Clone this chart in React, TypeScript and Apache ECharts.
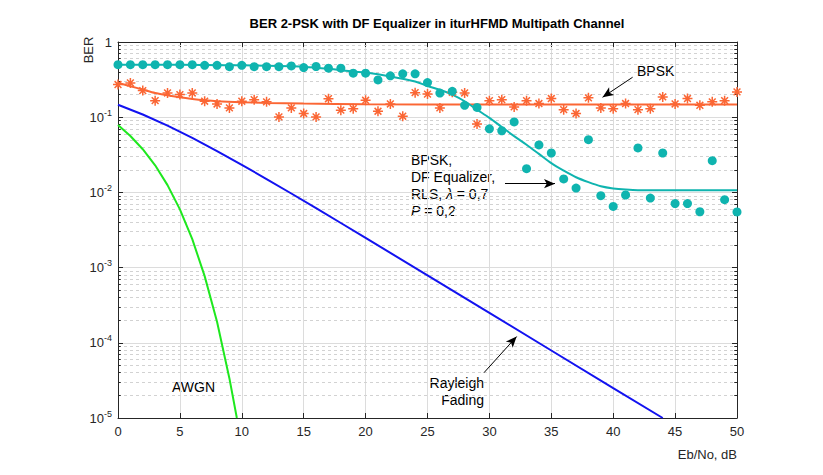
import React, { useEffect, useRef } from "react";
import * as echarts from "echarts";

const TITLE = "BER 2-PSK with DF Equalizer in iturHFMD Multipath Channel";
const X_NAME = "Eb/No, dB";
const Y_NAME = "BER";

// simulated points, one per dB from 0 to 50
const DF_EQ_SIM = [
  0.5, 0.5, 0.5, 0.5, 0.5, 0.5, 0.5, 0.49, 0.49, 0.47,
  0.49, 0.47, 0.47, 0.47, 0.48, 0.457, 0.472, 0.448, 0.448, 0.385,
  0.385, 0.313, 0.355, 0.377, 0.377, 0.289, 0.209, 0.221, 0.144, 0.135,
  0.07, 0.066, 0.0865, 0.0207, 0.0428, 0.0334, 0.0151, 0.0114, 0.0503, 0.00904,
  0.00651, 0.00923, 0.039, 0.0084, 0.0334, 0.0071, 0.0071, 0.00553, 0.0264, 0.008,
  0.0055,
];
const BPSK_SIM = [
  0.272, 0.286, 0.226, 0.166, 0.21, 0.2, 0.21, 0.163, 0.15, 0.133,
  0.163, 0.171, 0.16, 0.101, 0.133, 0.112, 0.101, 0.176, 0.124, 0.13,
  0.168, 0.12, 0.15, 0.103, 0.212, 0.203, 0.133, 0.215, 0.21, 0.081,
  0.166, 0.171, 0.137, 0.166, 0.152, 0.177, 0.126, 0.112, 0.181, 0.133,
  0.13, 0.152, 0.126, 0.13, 0.186, 0.15, 0.177, 0.144, 0.16, 0.166,
  0.217,
];

// fitted curves
const DF_FIT_X = [0, 5, 10, 14, 15, 17, 19, 20, 22, 24, 25, 26, 27, 28, 29, 30, 31, 32, 33, 34, 35, 36, 37, 38, 39, 40, 41, 42, 45, 50];
const DF_FIT_Y = [0.5, 0.5, 0.49, 0.476, 0.47, 0.44, 0.405, 0.392, 0.348, 0.298, 0.26, 0.232, 0.2, 0.163, 0.126, 0.098, 0.074, 0.056, 0.043, 0.0325, 0.0245, 0.0195, 0.0159, 0.0137, 0.0121, 0.0113, 0.0109, 0.0107, 0.0107, 0.0107];

const BPSK_FIT_X = [0, 1, 2, 3, 4, 5, 6, 7, 8, 10, 12, 15, 20, 30, 40, 50];
const BPSK_FIT_Y = [0.286, 0.258, 0.233, 0.21, 0.196, 0.184, 0.175, 0.168, 0.163, 0.158, 0.155, 0.152, 0.149, 0.147, 0.147, 0.147];

const RAYLEIGH_X = [0, 2, 4, 6, 8, 10, 12, 14, 16, 18, 20, 25, 30, 35, 40, 44];
const RAYLEIGH_Y = [0.1464, 0.1085, 0.0772, 0.053, 0.0355, 0.0233, 0.01506, 0.00967, 0.00617, 0.00392, 0.00248, 0.00079, 0.00025, 0.000079, 0.000025, 0.00001];

const AWGN_X = [0, 1, 2, 3, 4, 5, 6, 7, 8, 9, 9.6];
const AWGN_Y = [0.0786, 0.0563, 0.0375, 0.0229, 0.0125, 0.00595, 0.00239, 0.00077, 0.000191, 0.0000336, 0.00001];

const Y_DECADES = [1e-5, 1e-4, 1e-3, 1e-2, 1e-1];
const Y_MINOR_MULT = [2, 3, 4, 5, 6, 7, 8, 9];
const X_RANGE = [0, 50];
const Y_RANGE = [1e-5, 1];

const CYAN = "#0fb4af";
const ORANGE = "#fb6634";
const BLUE = "#1212f0";
const GREEN = "#1ee81e";
const AXIS = "#262626";
const FONT = "Liberation Sans, Arial, sans-serif";

const STAR = "path://M5,0L5,10M0,5L10,5M1.6,1.6L8.4,8.4M1.6,8.4L8.4,1.6";

function buildOption() {
  const minorVals: number[] = [];
  Y_DECADES.forEach((d) => Y_MINOR_MULT.forEach((m) => minorVals.push(+(d * m).toPrecision(3))));

  const tickLen = 0.22;
  const minorTickSegs: any[] = [];
  const minorGridSegs: any[] = [];
  minorVals.forEach((v) => {
    minorTickSegs.push([{ coord: [X_RANGE[0], v] }, { coord: [X_RANGE[0] + tickLen, v] }]);
    minorTickSegs.push([{ coord: [X_RANGE[1] - tickLen, v] }, { coord: [X_RANGE[1], v] }]);
    minorGridSegs.push([{ coord: [X_RANGE[0], v] }, { coord: [X_RANGE[1], v] }]);
  });

  const supLabel = (v: number) => {
    if (Math.abs(v - 1) < 1e-9) return "{b|1}";
    const e = Math.round(Math.log10(v));
    return "{b|10}{s|" + e + "}";
  };

  const axisLabelRich = {
    b: { fontSize: 13, color: AXIS, fontFamily: FONT },
    s: { fontSize: 9, color: AXIS, fontFamily: FONT, verticalAlign: "bottom", padding: [0, 0, 9, 0] },
  };

  const arrowLine = (a: number[], b: number[]) => [
    { coord: a, symbol: "none" },
    { coord: b, symbol: "arrow", symbolSize: [7, 11] },
  ];

  const helperData = [
    [X_RANGE[0], Y_RANGE[0]],
    [X_RANGE[1], Y_RANGE[1]],
  ];

  return {
    animation: false,
    backgroundColor: "#ffffff",
    title: {
      text: TITLE,
      left: 432,
      top: 12,
      textAlign: "center",
      textStyle: { fontSize: 13, fontWeight: "bold", color: "#000", fontFamily: FONT },
    },
    grid: { left: 118, right: 86, top: 42, bottom: 57, containLabel: false },
    xAxis: [
      {
        type: "value",
        min: X_RANGE[0],
        max: X_RANGE[1],
        interval: 5,
        position: "bottom",
        name: X_NAME,
        nameLocation: "end",
        nameGap: 0,
        nameTextStyle: {
          fontSize: 13,
          color: AXIS,
          fontFamily: FONT,
          align: "right",
          verticalAlign: "top",
          padding: [30, 0, 0, 0],
        },
        axisLine: { show: true, onZero: false, lineStyle: { color: AXIS, width: 1 } },
        axisTick: { show: true, inside: true, length: 5, lineStyle: { color: AXIS } },
        axisLabel: { fontSize: 13, color: AXIS, fontFamily: FONT, margin: 7 },
        splitLine: { show: true, lineStyle: { color: "#dcdcdc", width: 1 } },
      },
      {
        type: "value",
        min: X_RANGE[0],
        max: X_RANGE[1],
        interval: 5,
        position: "top",
        axisLine: { show: true, onZero: false, lineStyle: { color: AXIS, width: 1 } },
        axisTick: { show: true, inside: true, length: 5, lineStyle: { color: AXIS } },
        axisLabel: { show: false },
        splitLine: { show: false },
      },
    ],
    yAxis: [
      {
        type: "log",
        logBase: 10,
        min: Y_RANGE[0],
        max: Y_RANGE[1],
        position: "left",
        axisLine: { show: true, onZero: false, lineStyle: { color: AXIS, width: 1 } },
        axisTick: { show: true, inside: true, length: 5, lineStyle: { color: AXIS } },
        axisLabel: { formatter: supLabel, rich: axisLabelRich, margin: 6 },
        splitLine: { show: true, lineStyle: { color: "#dcdcdc", width: 1 } },
        minorTick: { show: false },
      },
      {
        type: "log",
        logBase: 10,
        min: Y_RANGE[0],
        max: Y_RANGE[1],
        position: "right",
        axisLine: { show: true, onZero: false, lineStyle: { color: AXIS, width: 1 } },
        axisTick: { show: true, inside: true, length: 5, lineStyle: { color: AXIS } },
        axisLabel: { show: false },
        splitLine: { show: false },
      },
    ],
    graphic: [
      {
        type: "text",
        x: 88,
        y: 50,
        rotation: Math.PI / 2,
        style: {
          text: Y_NAME,
          fill: AXIS,
          font: "13px " + FONT,
          align: "center",
          verticalAlign: "middle",
        },
      },
      {
        type: "text",
        x: 637,
        y: 71,
        style: { text: "BPSK", font: "14px " + FONT, fill: "#000", verticalAlign: "middle", align: "left" },
      },
      {
        type: "text",
        x: 411,
        y: 151,
        style: {
          text: "{n|BPSK,}\n{n|DF Equalizer,}\n{n|RLS, }{i|λ}{n| = 0,7}\n{i|P}{n| = 0,2}",
          verticalAlign: "top",
          align: "left",
          rich: {
            n: { fontSize: 14, fontFamily: FONT, fill: "#000", color: "#000", lineHeight: 17 },
            i: { fontSize: 14, fontFamily: FONT, fontStyle: "italic", fill: "#000", color: "#000", lineHeight: 17 },
          },
        },
      },
      {
        type: "text",
        x: 172,
        y: 387,
        style: { text: "AWGN", font: "14px " + FONT, fill: "#000", verticalAlign: "middle", align: "left" },
      },
      {
        type: "text",
        x: 484,
        y: 374,
        style: {
          text: "Rayleigh\nFading",
          font: "14px " + FONT,
          fill: "#000",
          verticalAlign: "top",
          align: "right",
          lineHeight: 17,
        },
      },
    ],
    series: [
      {
        name: "gridMinor",
        type: "line",
        data: helperData,
        showSymbol: false,
        lineStyle: { opacity: 0 },
        silent: true,
        z: 1,
        markLine: {
          silent: true,
          symbol: "none",
          label: { show: false },
          animation: false,
          z: 1,
          lineStyle: { color: "#d2d2d2", type: [3, 3], width: 1 },
          data: minorGridSegs,
        },
      },
      {
        name: "minorTicks",
        type: "line",
        data: helperData,
        showSymbol: false,
        lineStyle: { opacity: 0 },
        silent: true,
        z: 3,
        markLine: {
          silent: true,
          symbol: "none",
          label: { show: false },
          animation: false,
          z: 3,
          lineStyle: { color: AXIS, type: "solid", width: 1 },
          data: minorTickSegs,
        },
      },
      {
        name: "AWGN",
        type: "line",
        data: AWGN_X.map((x, i) => [x, AWGN_Y[i]]),
        showSymbol: false,
        lineStyle: { color: GREEN, width: 2 },
        itemStyle: { color: GREEN },
        clip: true,
        z: 4,
      },
      {
        name: "Rayleigh Fading",
        type: "line",
        data: RAYLEIGH_X.map((x, i) => [x, RAYLEIGH_Y[i]]),
        showSymbol: false,
        lineStyle: { color: BLUE, width: 2 },
        itemStyle: { color: BLUE },
        clip: true,
        z: 4,
        markLine: {
          silent: true,
          label: { show: false },
          animation: false,
          lineStyle: { color: "#000", type: "solid", width: 1 },
          data: [
            arrowLine([29.56, 4.0e-5], [32.2, 1.21e-4]),
            arrowLine([41.57, 0.34], [39.14, 0.184]),
            arrowLine([31.26, 0.01305], [35.3, 0.01305]),
          ],
        },
      },
      {
        name: "BPSK fit",
        type: "line",
        data: BPSK_FIT_X.map((x, i) => [x, BPSK_FIT_Y[i]]),
        showSymbol: false,
        smooth: 0.3,
        lineStyle: { color: ORANGE, width: 2 },
        itemStyle: { color: ORANGE },
        z: 5,
      },
      {
        name: "BPSK",
        type: "scatter",
        data: BPSK_SIM.map((v, i) => [i, v]),
        symbol: STAR,
        symbolSize: 10,
        itemStyle: { color: "rgba(0,0,0,0)", borderColor: ORANGE, borderWidth: 1.5, opacity: 1 },
        z: 6,
      },
      {
        name: "DF fit",
        type: "line",
        data: DF_FIT_X.map((x, i) => [x, DF_FIT_Y[i]]),
        showSymbol: false,
        smooth: 0.3,
        lineStyle: { color: CYAN, width: 2 },
        itemStyle: { color: CYAN },
        z: 5,
      },
      {
        name: "BPSK, DF Equalizer",
        type: "scatter",
        data: DF_EQ_SIM.map((v, i) => [i, v]),
        symbol: "circle",
        symbolSize: 9,
        itemStyle: { color: CYAN, opacity: 1 },
        z: 6,
      },
    ],
  };
}

export default function App() {
  const ref = useRef<HTMLDivElement>(null);
  useEffect(() => {
    if (!ref.current) return;
    const chart = echarts.init(ref.current, undefined, { renderer: "svg" });
    chart.setOption(buildOption() as any);
    return () => chart.dispose();
  }, []);
  return <div ref={ref} style={{ width: 823, height: 475, position: "absolute", left: 0, top: 0 }} />;
}
